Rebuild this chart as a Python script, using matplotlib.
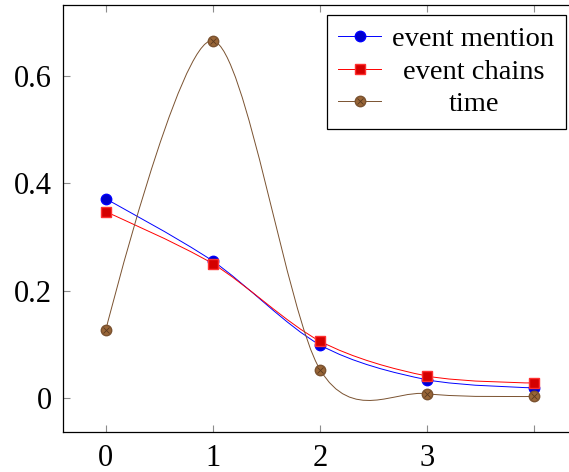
import matplotlib
matplotlib.use("Agg")
import matplotlib.pyplot as plt
from matplotlib.path import Path
from matplotlib.patches import PathPatch
from matplotlib.lines import Line2D
import numpy as np

plt.rcParams['font.family'] = ['Liberation Serif', 'DejaVu Serif']

# Data
steps = [0, 1, 2, 3, 4]
event_mention = [0.371, 0.255, 0.099, 0.034, 0.019]
event_chains = [0.347, 0.250, 0.106, 0.041, 0.028]
time_vals = [0.127, 0.666, 0.053, 0.008, 0.003]

xtick_labels = ['0', '1', '2', '3', '']
ytick_vals = [0, 0.2, 0.4, 0.6]
ytick_labels = ['0', '0.2', '0.4', '0.6']


def smooth_path(xs, ys, tension=0.55):
    # same construction as tikz "smooth" plots (cubic Beziers)
    t = 0.2775 * tension
    p = np.column_stack([xs, ys]).astype(float)
    n = len(p)
    verts = [p[0]]
    codes = [Path.MOVETO]
    for i in range(n - 1):
        c1 = p[i] if i == 0 else p[i] + t * (p[i + 1] - p[i - 1])
        c2 = p[i + 1] if i == n - 2 else p[i + 1] - t * (p[i + 2] - p[i])
        verts += [c1, c2, p[i + 1]]
        codes += [Path.CURVE4] * 3
    return Path(verts, codes)


fig = plt.figure(figsize=(5.69, 4.72), dpi=100)
ax = fig.add_axes([63 / 569, 40 / 472, 514 / 569, 427 / 472])

series = [
    (event_mention, 'event mention', '#0000ff', dict(marker='o', mfc='#0000cc', mec='#0000ff', ms=7.5)),
    (event_chains, 'event chains', '#ff0000', dict(marker='s', mfc='#d40000', mec='#ff3030', ms=7.5)),
    (time_vals, 'time', '#7a5230', dict(marker='o', mfc='#996638', mec='#7a5230', ms=7.5)),
]

handles = []
for vals, label, col, mk in series:
    ax.add_patch(PathPatch(smooth_path(steps, vals), fill=False, edgecolor=col, lw=0.7, zorder=2))
    ax.plot(steps, vals, linestyle='none', zorder=3, **mk)
    h = Line2D([], [], color=col, lw=0.7, **mk)
    if label == 'time':
        ax.plot(steps, vals, linestyle='none', marker='x', ms=5, mew=0.6, color='#5a3a20', zorder=4)
        hx = Line2D([], [], linestyle='none', marker='x', ms=5, mew=0.6, color='#5a3a20')
        handles.append((h, hx))
    else:
        handles.append(h)

ax.set_xlim(-0.4, 4.4)
ax.set_ylim(-0.0634, 0.7325)
ax.set_xticks(steps)
ax.set_xticklabels(xtick_labels)
ax.set_yticks(ytick_vals)
ax.set_yticklabels(ytick_labels)
ax.tick_params(direction='in', length=5, width=0.8, color='#8c8c8c',
               top=True, right=True, labelsize=22, pad=8)
ax.tick_params(axis='x', pad=8.5)
for s in ax.spines.values():
    s.set_linewidth(0.9)

leg = ax.legend(handles, [s[1] for s in series], loc='upper right',
                bbox_to_anchor=(0.9786, 0.9766), borderaxespad=0,
                fontsize=20.5, fancybox=False, framealpha=1, edgecolor='black',
                handlelength=1.5, handletextpad=0.4, labelspacing=0.23,
                borderpad=0.4)
leg.get_frame().set_linewidth(0.9)

# center the legend entries like pgfplots does
renderer = fig.canvas.get_renderer()
widths = [t.get_window_extent(renderer).width for t in leg.get_texts()]
widest = max(widths)
for t, w in zip(leg.get_texts(), widths):
    t.set_position(((widest - w) / 2, 0))

fig.savefig('out.png', dpi=100)
